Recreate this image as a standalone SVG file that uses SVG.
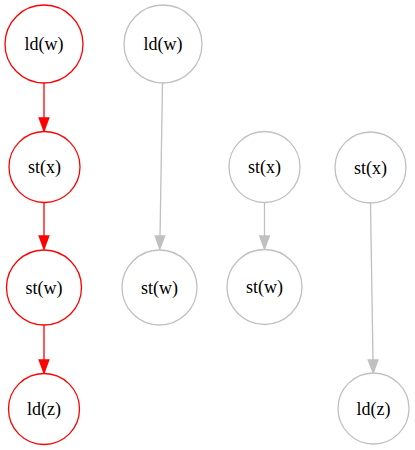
<svg xmlns="http://www.w3.org/2000/svg" width="415" height="450" viewBox="0 0 415 450">
  <style>
    .red ellipse { fill: #ffffff; stroke: #ff0000; stroke-width: 1.3; }
    .grey ellipse { fill: #ffffff; stroke: #c0c0c0; stroke-width: 1.3; }
    text { font-family: "Liberation Serif", "Times New Roman", serif; font-size: 18px; text-anchor: middle; fill: #000000; }
    .e-red { stroke: #ff0000; stroke-width: 1.3; fill: none; }
    .e-grey { stroke: #c0c0c0; stroke-width: 1.3; fill: none; }
    .h-red { fill: #ff0000; stroke: #ff0000; stroke-width: 1.3; }
    .h-grey { fill: #c0c0c0; stroke: #c0c0c0; stroke-width: 1.3; }
  </style>
  <rect width="415" height="450" fill="#ffffff"/>

  <g id="edges">
    <!-- red chain -->
    <line class="e-red" x1="44" y1="83" x2="44" y2="119"/>
    <polygon class="h-red" points="39.2,118 44,131 48.8,118"/>
    <line class="e-red" x1="44" y1="202" x2="44" y2="237"/>
    <polygon class="h-red" points="39.2,236 44,249 48.8,236"/>
    <line class="e-red" x1="44" y1="325" x2="44" y2="361"/>
    <polygon class="h-red" points="39.2,360 44,373 48.8,360"/>
    <!-- grey edges -->
    <line class="e-grey" x1="162.5" y1="83" x2="160" y2="237"/>
    <polygon class="h-grey" points="155.2,236 159.8,249 164.8,236"/>
    <line class="e-grey" x1="264.5" y1="202" x2="264.5" y2="237"/>
    <polygon class="h-grey" points="259.7,236 264.5,249 269.3,236"/>
    <line class="e-grey" x1="370.5" y1="203" x2="373" y2="361"/>
    <polygon class="h-grey" points="368.2,360 373.2,373 378,360"/>
  </g>

  <g id="n_ldw_red" class="red">
    <ellipse cx="44" cy="44" rx="39" ry="39"/>
    <text x="44" y="50">ld(w)</text>
  </g>
  <g id="n_stx_red" class="red">
    <ellipse cx="44.5" cy="167" rx="35.5" ry="35.5"/>
    <text x="44.5" y="173">st(x)</text>
  </g>
  <g id="n_stw_red" class="red">
    <ellipse cx="44" cy="287.5" rx="37.5" ry="37.5"/>
    <text x="44" y="293.5">st(w)</text>
  </g>
  <g id="n_ldz_red" class="red">
    <ellipse cx="44" cy="409" rx="35.5" ry="35.5"/>
    <text x="44" y="415">ld(z)</text>
  </g>

  <g id="n_ldw_grey" class="grey">
    <ellipse cx="163" cy="44" rx="39" ry="39"/>
    <text x="163" y="50">ld(w)</text>
  </g>
  <g id="n_stw_grey1" class="grey">
    <ellipse cx="159.5" cy="287.5" rx="37.5" ry="37.5"/>
    <text x="159.5" y="293.5">st(w)</text>
  </g>

  <g id="n_stx_grey1" class="grey">
    <ellipse cx="264.5" cy="167" rx="35.5" ry="35.5"/>
    <text x="264.5" y="173">st(x)</text>
  </g>
  <g id="n_stw_grey2" class="grey">
    <ellipse cx="264.5" cy="287" rx="37.5" ry="37.5"/>
    <text x="264.5" y="293">st(w)</text>
  </g>

  <g id="n_stx_grey2" class="grey">
    <ellipse cx="370.5" cy="167.5" rx="35.5" ry="35.5"/>
    <text x="370.5" y="173.5">st(x)</text>
  </g>
  <g id="n_ldz_grey" class="grey">
    <ellipse cx="373.5" cy="408.5" rx="35.5" ry="35.5"/>
    <text x="373.5" y="414.5">ld(z)</text>
  </g>
</svg>
